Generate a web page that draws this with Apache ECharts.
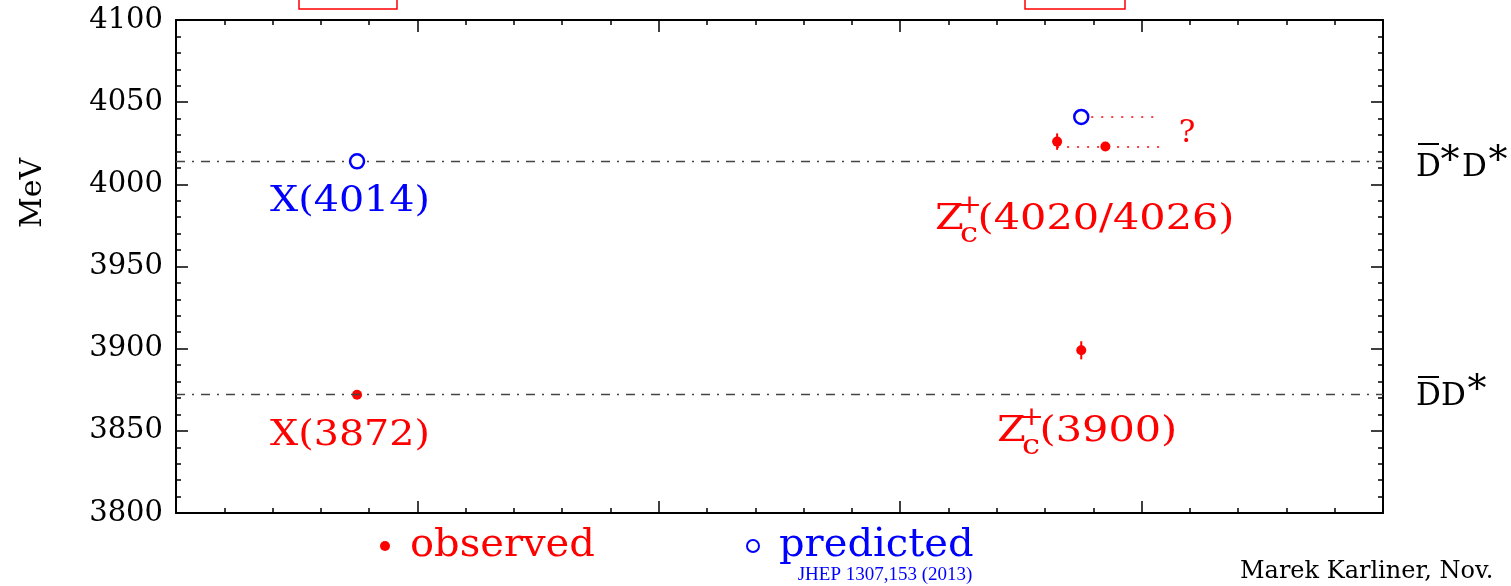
<!DOCTYPE html>
<html><head><meta charset="utf-8">
<script src="https://cdn.jsdelivr.net/npm/echarts@6/dist/echarts.min.js"></script>
<style>html,body{margin:0;padding:0;background:#fff}#c{width:1511px;height:586px}</style>
</head><body><div id="c"></div>
<script>
// ---- data ----
const observedX = [3.75, 18.75, 18.25, 19.25];
const observedY = [3872, 3899, 4026, 4023];
const observedErr = [0, 5.5, 5, 0];
const predictedX = [3.75, 18.75];
const predictedY = [4014, 4041];
const thresholdY = [4014, 3872];
const linkStartX = [18.25, 18.75];
const linkEndX = [20.4, 20.4];
const linkY = [4023, 4041];
const yMin = 3800, yMax = 4100, yStep = 50;
const xMin = 0, xMax = 25, xStep = 5;

const SERIF = '"DejaVu Serif", serif';
const RED = '#ff0000', BLUE = '#0000ff';

const chart = echarts.init(document.getElementById('c'), null, {renderer: 'canvas'});

function baseX(pos) {
  return {
    type: 'value', min: xMin, max: xMax, interval: xStep, position: pos,
    axisLine: {onZero: false, lineStyle: {color: '#000', width: 2}},
    axisTick: {inside: true, length: 12, lineStyle: {color: '#000', width: 1.5}},
    minorTick: {show: true, splitNumber: 5, length: 5, lineStyle: {color: '#000', width: 1.5}},
    axisLabel: {show: false}, splitLine: {show: false}, minorSplitLine: {show: false}
  };
}
function baseY(pos, showLabel) {
  return {
    type: 'value', min: yMin, max: yMax, interval: yStep, position: pos,
    axisLine: {show: true, onZero: false, lineStyle: {color: '#000', width: 2}},
    axisTick: {show: true, inside: true, length: 12, lineStyle: {color: '#000', width: 1.5}},
    minorTick: {show: true, splitNumber: 5, length: 5, lineStyle: {color: '#000', width: 1.5}},
    axisLabel: {show: showLabel, fontFamily: SERIF, fontSize: 29, color: '#000', margin: 13,
                formatter: v => String(v)},
    splitLine: {show: false}, minorSplitLine: {show: false}
  };
}

function zcLabel(x0, yMid, txt) {
  const s = 1.15;
  return {
    type: 'group', x: x0, y: yMid, scaleX: s, silent: true,
    children: [
      {type: 'text', x: 0, y: 0, style: {text: 'Z', font: '36px ' + SERIF, fill: RED, align: 'left', verticalAlign: 'middle'}},
      {type: 'text', x: 30, y: -14, style: {text: '+', font: '26px ' + SERIF, fill: RED, align: 'center', verticalAlign: 'middle'}},
      {type: 'text', x: 29.5, y: 15, style: {text: 'c', font: '28px ' + SERIF, fill: RED, align: 'center', verticalAlign: 'middle'}},
      {type: 'text', x: 37, y: 0, style: {text: txt, font: '36px ' + SERIF, fill: RED, align: 'left', verticalAlign: 'middle'}}
    ]
  };
}
function simpleLabel(xc, yMid, txt, color) {
  return {type: 'group', x: xc, y: yMid, scaleX: 1.1, silent: true, children: [
    {type: 'text', x: 0, y: 0, style: {text: txt, font: '36px ' + SERIF, fill: color, align: 'center', verticalAlign: 'middle'}}
  ]};
}
function txt(x, y, t, font, align) {
  return {type: 'text', x: x, y: y, silent: true,
          style: {text: t, font: font, fill: '#000', align: align || 'left', verticalAlign: 'middle'}};
}
function overline(x1, x2, y) {
  return {type: 'line', silent: true, shape: {x1: x1, y1: y, x2: x2, y2: y}, style: {stroke: '#000', lineWidth: 2}};
}
const D_FONT = '31px ' + SERIF, STAR_FONT = '38px ' + SERIF;

const option = {
  backgroundColor: '#fff',
  animation: false,
  grid: {left: 176, right: 128, top: 20, bottom: 73, containLabel: false, outerBoundsMode: 'none'},
  xAxis: [baseX('bottom'), baseX('top')],
  yAxis: [baseY('left', true), baseY('right', false)],
  legend: [
    {data: [{name: 'observed', icon: 'circle'}], left: 375, top: 521, padding: 5,
     itemWidth: 10, itemHeight: 10, selectedMode: false,
     textStyle: {color: RED, fontFamily: SERIF, fontSize: 40, padding: [0, 0, 0, 15]}},
    {data: [{name: 'predicted', icon: 'circle', itemStyle: {color: '#fff', borderColor: BLUE, borderWidth: 2}}],
     left: 741, top: 521, padding: 5, itemWidth: 12, itemHeight: 12, selectedMode: false,
     textStyle: {color: BLUE, fontFamily: SERIF, fontSize: 40, padding: [0, 0, 0, 15]}}
  ],
  series: [
    {
      name: 'thresholds', type: 'line', data: [], silent: true,
      markLine: {
        symbol: ['none', 'none'], silent: true, label: {show: false},
        lineStyle: {color: '#444', width: 1.3, type: [9, 7, 2, 7], opacity: 1},
        data: thresholdY.map(y => ({yAxis: y}))
      }
    },
    {
      name: 'links', type: 'line', data: [], silent: true,
      markLine: {
        symbol: ['none', 'none'], silent: true, label: {show: false},
        lineStyle: {color: RED, width: 1.5, type: [2, 8], opacity: 1},
        data: linkY.map((y, i) => [{coord: [linkStartX[i], y]}, {coord: [linkEndX[i], y]}])
      }
    },
    {
      name: 'errors', type: 'custom', z: 3, silent: true,
      data: observedX.map((x, i) => [x, observedY[i] - observedErr[i], observedY[i] + observedErr[i]]).filter((d, i) => observedErr[i] > 0),
      encode: {x: 0, y: [1, 2]},
      renderItem: function (params, api) {
        const p1 = api.coord([api.value(0), api.value(1)]);
        const p2 = api.coord([api.value(0), api.value(2)]);
        return {type: 'line', shape: {x1: p1[0], y1: p1[1], x2: p2[0], y2: p2[1]}, style: {stroke: RED, lineWidth: 2}};
      }
    },
    {
      name: 'observed', type: 'scatter', z: 4, symbol: 'circle', symbolSize: 10,
      itemStyle: {color: RED, opacity: 1},
      data: observedX.map((x, i) => [x, observedY[i]])
    },
    {
      name: 'predicted', type: 'scatter', z: 5, symbol: 'circle', symbolSize: 14,
      itemStyle: {color: '#fff', borderColor: BLUE, borderWidth: 2.5, opacity: 1},
      data: predictedX.map((x, i) => [x, predictedY[i]])
    }
  ],
  graphic: [
    {type: 'rect', shape: {x: 299, y: -12, width: 98, height: 21}, style: {fill: 'none', stroke: RED, lineWidth: 1.5}, silent: true},
    {type: 'rect', shape: {x: 1025, y: -12, width: 100, height: 21}, style: {fill: 'none', stroke: RED, lineWidth: 1.5}, silent: true},
    {type: 'text', x: 33, y: 193, rotation: Math.PI / 2, silent: true,
     style: {text: 'MeV', font: '30px ' + SERIF, fill: '#000', align: 'center', verticalAlign: 'middle'}},
    simpleLabel(350, 202, 'X(4014)', BLUE),
    simpleLabel(350, 436, 'X(3872)', RED),
    zcLabel(935, 220, '(4020/4026)'),
    zcLabel(997, 432, '(3900)'),
    {type: 'text', x: 1187, y: 134, silent: true,
     style: {text: '?', font: '31px ' + SERIF, fill: RED, align: 'center', verticalAlign: 'middle'}},
    // D-bar* D*
    txt(1416, 168, 'D', D_FONT), overline(1418, 1439, 144),
    txt(1450, 162, '*', STAR_FONT, 'center'),
    txt(1462, 168, 'D', D_FONT),
    txt(1498, 162, '*', STAR_FONT, 'center'),
    // D-bar D*
    txt(1416, 397, 'D', D_FONT), overline(1418, 1439, 377),
    txt(1441, 397, 'D', D_FONT),
    txt(1477, 391, '*', STAR_FONT, 'center'),
    {type: 'text', x: 885, y: 575, silent: true,
     style: {text: 'JHEP 1307,153 (2013)', font: '19px "Liberation Serif", serif', fill: BLUE, align: 'center', verticalAlign: 'middle'}},
    {type: 'text', x: 1240, y: 572, silent: true,
     style: {text: 'Marek Karliner, Nov.', font: '24px ' + SERIF, fill: '#000', align: 'left', verticalAlign: 'middle'}}
  ]
};
chart.setOption(option);
</script>
</body></html>
